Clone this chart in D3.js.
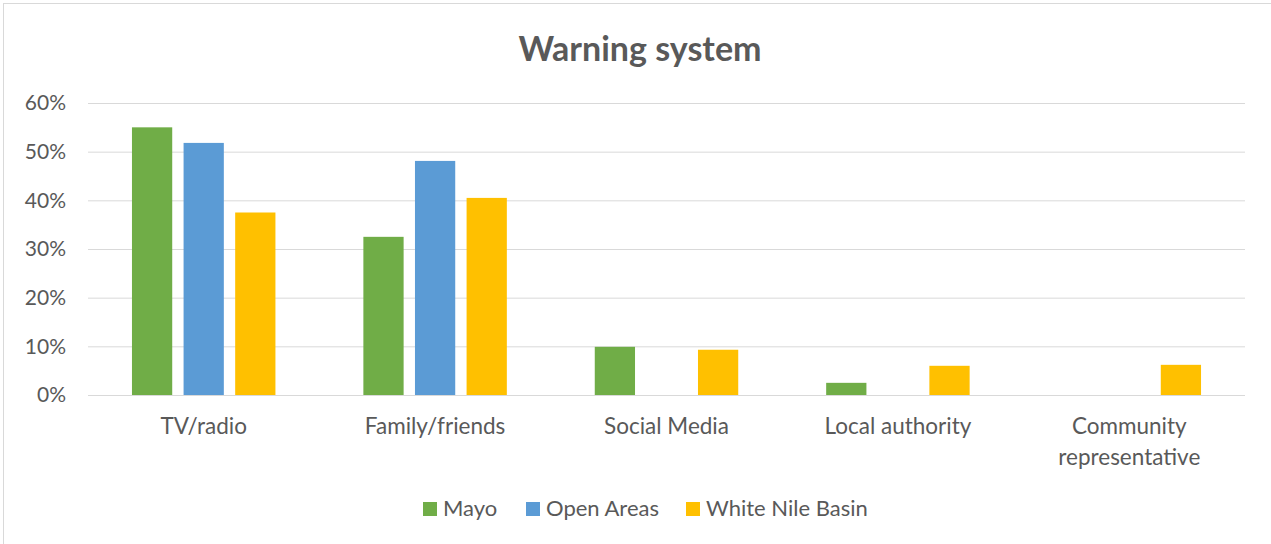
<!DOCTYPE html>
<html><head><meta charset="utf-8">
<script src="https://cdn.jsdelivr.net/npm/d3@7"></script>
<style>body{margin:0;background:#fff;} svg{display:block;}</style>
</head><body>
<svg id="c" width="1271" height="544"></svg>
<script>
const categories = [["TV/radio"],["Family/friends"],["Social Media"],["Local authority"],["Community","representative"]];
const seriesNames = ["Mayo","Open Areas","White Nile Basin"];
const mayo = [0.55, 0.325, 0.099, 0.025, 0];
const openAreas = [0.518, 0.481, 0, 0, 0];
const whiteNile = [0.375, 0.405, 0.093, 0.060, 0.062];
const yTicks = [0,0.1,0.2,0.3,0.4,0.5,0.6];
const colors = ["#70AD47","#5B9BD5","#FFC000"];
const values = [mayo, openAreas, whiteNile];

const svg = d3.select("#c");
const font = "Lato, 'Open Sans', sans-serif";
svg.append("rect").attr("x",3.5).attr("y",3.5).attr("width",1280).attr("height",560)
  .attr("fill","#fff").attr("stroke","#d9d9d9").attr("stroke-width",1);

const L=88,R=1245,T=103,B=395;
const y = d3.scaleLinear().domain([0,0.6]).range([B,T]);
const x0 = d3.scaleBand().domain(d3.range(categories.length)).range([L,R]).padding(0);
const x1 = d3.scaleBand().domain(d3.range(3)).range([0.19*x0.bandwidth(),0.81*x0.bandwidth()]).paddingInner(0.22).paddingOuter(0);

svg.append("text").attr("x",640).attr("y",61).attr("text-anchor","middle")
  .attr("font-family",font).attr("font-weight","bold").attr("font-size",34).attr("fill","#595959").text("Warning system");

const gy = svg.append("g").attr("transform",`translate(${L},0)`)
  .call(d3.axisLeft(y).tickValues(yTicks).tickSize(-(R-L)).tickFormat(d3.format(".0%")));
gy.select(".domain").remove();
gy.selectAll(".tick line").attr("stroke","#d9d9d9").attr("stroke-width",1);
gy.selectAll(".tick text").attr("x",-22).attr("font-family",font).attr("font-size",21).attr("fill","#595959");

const g = svg.append("g");
categories.forEach((c,i)=>{
  values.forEach((s,j)=>{
    if(s[i]>0){
      g.append("rect").attr("x",x0(i)+x1(j)).attr("width",x1.bandwidth())
        .attr("y",y(s[i])).attr("height",y(0)-y(s[i])).attr("fill",colors[j]);
    }
  });
  const t = svg.append("text").attr("text-anchor","middle").attr("font-family",font).attr("font-size",22.5).attr("fill","#595959");
  c.forEach((line,k)=>{
    t.append("tspan").attr("x",x0(i)+x0.bandwidth()/2).attr("y",434+k*31).text(line);
  });
});

svg.append("line").attr("x1",L).attr("x2",R).attr("y1",y(0)+0.5).attr("y2",y(0)+0.5).attr("stroke","#d9d9d9");

const legX = [423, 526, 686];
seriesNames.forEach((n,j)=>{
  svg.append("rect").attr("x",legX[j]).attr("y",502).attr("width",14).attr("height",14).attr("fill",colors[j]);
  svg.append("text").attr("x",legX[j]+20).attr("y",516).attr("font-family",font).attr("font-size",22).attr("fill","#595959").text(n);
});
</script>
</body></html>
